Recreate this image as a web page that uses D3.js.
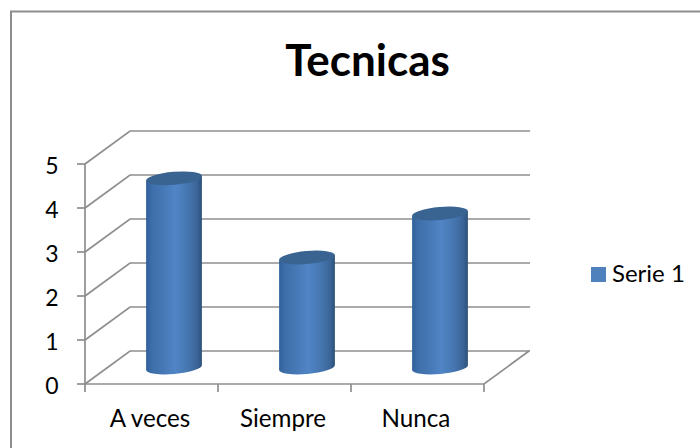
<!DOCTYPE html>
<html><head><meta charset="utf-8">
<script src="https://cdn.jsdelivr.net/npm/d3@7"></script>
<style>html,body{margin:0;padding:0;background:#fff}svg{display:block}text{font-family:Lato,"Open Sans",sans-serif;fill:#000}</style>
</head><body><svg id="c" width="700" height="448"></svg>
<script>
const categories = ["A veces", "Siempre", "Nunca"];
const values = [4.3, 2.5, 3.5];
const yTicks = [0, 1, 2, 3, 4, 5];
const seriesName = "Serie 1";
const chartTitle = "Tecnicas";

const svg = d3.select("#c");
const x = d3.scaleBand().domain(categories).range([85, 484]);
const y = d3.scaleLinear().domain([0, 5]).range([384, 164]);
const dx = 45, dy = -33;
const rx = 28, ry = 6.5, tilt = -5;
const axisCol = "#8e8e8e";

// frame
svg.append("path").attr("fill", "none").attr("stroke", axisCol).attr("stroke-width", 2)
  .attr("d", "M11,448V11.5H700");

// gridlines + side wall
const g = svg.append("g").attr("fill", "none").attr("stroke", axisCol).attr("stroke-width", 1.7);
yTicks.forEach(t => {
  g.append("path").attr("d", `M${x.range()[0]},${y(t)}L${x.range()[0] + dx},${y(t) + dy}H${x.range()[1] + dx + 1}`);
  g.append("path").attr("d", `M${x.range()[0] - 8},${y(t)}H${x.range()[0]}`);
});
g.append("path").attr("d", `M${x.range()[0]},${y(5)}V${y(0)}H${x.range()[1]}L${x.range()[1] + dx},${y(0) + dy}`);
[...categories.map(c => x(c)), x.range()[1]].forEach(p =>
  g.append("path").attr("d", `M${p},${y(0)}v8`));

// gradients
const defs = svg.append("defs");
const grad = defs.append("linearGradient").attr("id", "body");
[[0, "#30609a"], [0.1, "#3d6ea9"], [0.3, "#4678b5"], [0.52, "#5085c6"], [0.75, "#4676b0"], [0.92, "#3a6496"], [1, "#2c5078"]]
  .forEach(([o, c]) => grad.append("stop").attr("offset", o).attr("stop-color", c));

// bars
const mid = y(0) + dy / 2;
categories.forEach((c, i) => {
  const cx = x(c) + x.bandwidth() / 2 + dx / 2;
  const top = y(values[i]) + dy / 2;
  const a = tilt * Math.PI / 180;
  const ox = rx * Math.cos(a), oy = rx * Math.sin(a);
  const G = svg.append("g");
  G.append("path").attr("fill", "url(#body)")
    .attr("d", `M${cx - ox},${top - oy}L${cx - ox},${mid - oy}A${rx},${ry} ${tilt} 0 0 ${cx + ox},${mid + oy}L${cx + ox},${top + oy}Z`);
  G.append("ellipse").attr("cx", cx).attr("cy", top).attr("rx", rx).attr("ry", ry)
    .attr("transform", `rotate(${tilt} ${cx} ${top})`).attr("fill", "#396391");
});

// axis labels
svg.append("g").selectAll("text").data(yTicks).join("text")
  .attr("x", 58.5).attr("y", d => y(d)).attr("dy", "0.42em").attr("text-anchor", "end")
  .attr("font-size", 23).text(d => d);
svg.append("g").selectAll("text").data(categories).join("text")
  .attr("x", d => x(d) + x.bandwidth() / 2 - 1.5).attr("y", 427).attr("text-anchor", "middle")
  .attr("font-size", 24.2).text(d => d);

// title
svg.append("text").attr("x", 367.5).attr("y", 76).attr("text-anchor", "middle")
  .attr("font-size", 44).attr("font-weight", 700).text(chartTitle);

// legend
svg.append("rect").attr("x", 591).attr("y", 267).attr("width", 15).attr("height", 15).attr("fill", "#4f81bd");
svg.append("text").attr("x", 612).attr("y", 282).attr("font-size", 24).text(seriesName);
</script></body></html>
